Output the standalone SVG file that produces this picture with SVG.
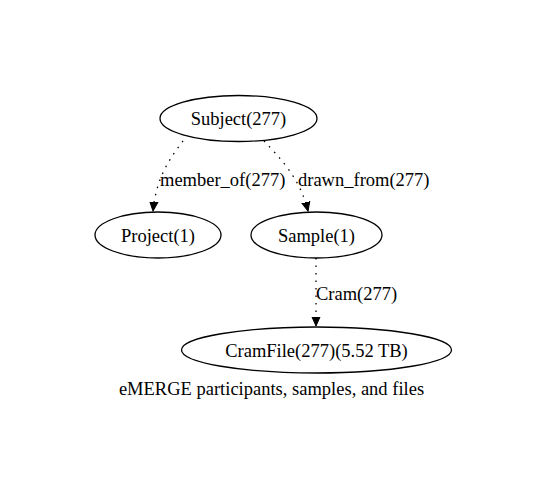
<svg xmlns="http://www.w3.org/2000/svg" width="546" height="503" viewBox="0 0 546 503">
<defs>
<marker id="arr" markerWidth="10" markerHeight="10" refX="9" refY="5" orient="auto" markerUnits="userSpaceOnUse">
<path d="M0,1 L9,5 L0,9 Z" fill="#000" stroke="#000" stroke-width="1"/>
</marker>
</defs>
<style>
text{font-family:"Liberation Serif","Times New Roman",serif;font-size:18.5px;fill:#000}
.n ellipse{fill:none;stroke:#000;stroke-width:1.3}
.e path{fill:none;stroke:#000;stroke-width:1.3;stroke-dasharray:1.5,6}
</style>
<rect width="546" height="503" fill="#fff"/>
<g id="edges" class="e">
<path d="M183,141 C170,158 156,178 153,211" marker-end="url(#arr)"/>
<path d="M264,141 C280,158 300,178 308,211" marker-end="url(#arr)"/>
<path d="M316,258 L316,326" marker-end="url(#arr)"/>
<text x="160" y="186">member_of(277)</text>
<text x="298" y="186">drawn_from(277)</text>
<text x="316" y="300">Cram(277)</text>
</g>
<g id="subject" class="n"><ellipse cx="238.5" cy="118.5" rx="78.5" ry="23"/><text x="238.5" y="125" text-anchor="middle">Subject(277)</text></g>
<g id="project" class="n"><ellipse cx="158" cy="235" rx="63" ry="23"/><text x="158" y="241.5" text-anchor="middle">Project(1)</text></g>
<g id="sample" class="n"><ellipse cx="316.5" cy="235" rx="65.5" ry="23"/><text x="316.5" y="241.5" text-anchor="middle">Sample(1)</text></g>
<g id="cramfile" class="n"><ellipse cx="316.5" cy="350" rx="135" ry="23"/><text x="316.5" y="356.5" text-anchor="middle">CramFile(277)(5.52 TB)</text></g>
<text x="271.5" y="395" text-anchor="middle">eMERGE participants, samples, and files</text>
</svg>
